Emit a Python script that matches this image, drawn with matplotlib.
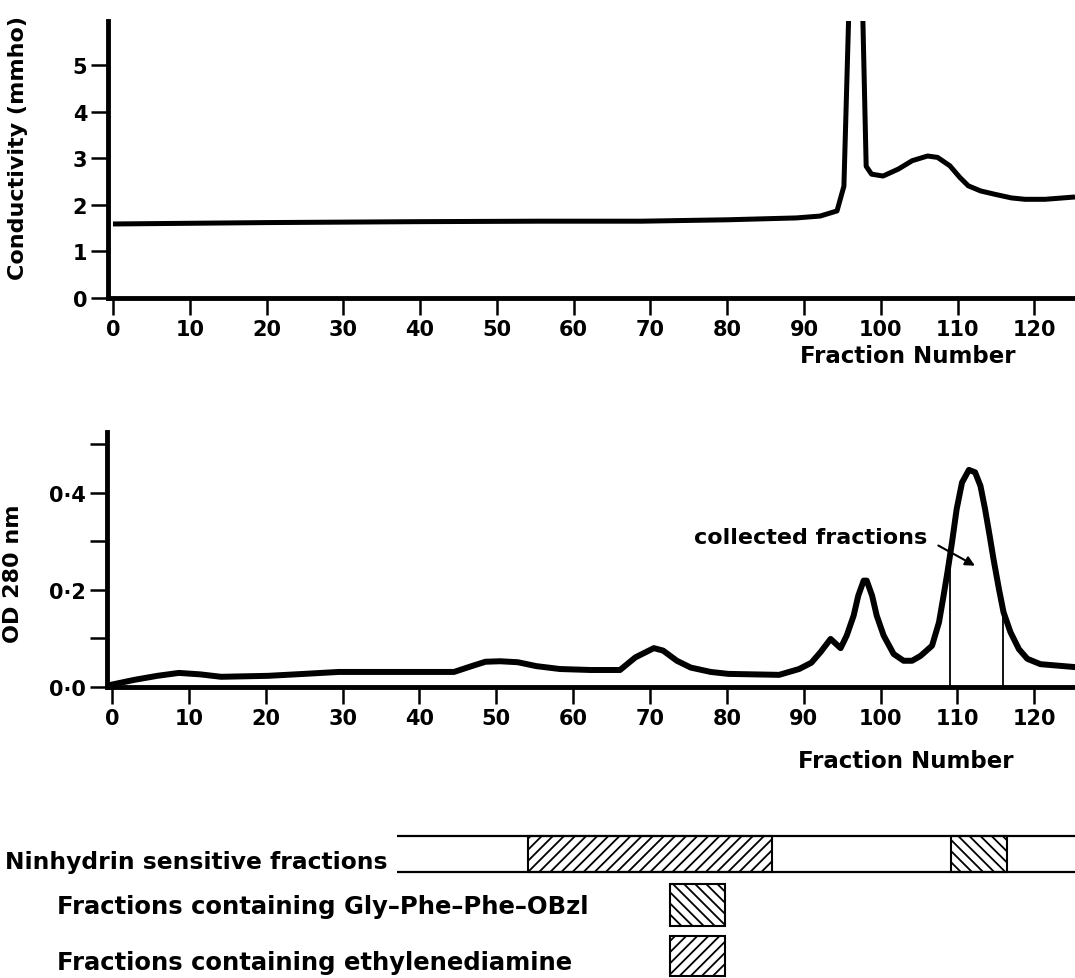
import numpy as np
import matplotlib
matplotlib.use("Agg")
import matplotlib.pyplot as plt

# conductivity trace (upper panel)
cond_frac = [0, 20, 40, 55.6, 68.9, 80, 89, 92.1, 94.3, 95.2, 95.9, 96.75, 97.6,
             98.1, 98.8, 100.3, 102.3, 104.1, 106.1, 107.4, 109, 110.3, 111.4,
             113, 114.8, 117, 118.8, 121.4, 125.3]
cond_val = [1.59, 1.62, 1.64, 1.65, 1.65, 1.68, 1.72, 1.76, 1.87, 2.4, 6.5, 7.0, 6.5,
            2.83, 2.66, 2.62, 2.77, 2.95, 3.05, 3.02, 2.84, 2.59, 2.41,
            2.30, 2.23, 2.15, 2.12, 2.12, 2.17]

# OD 280 nm trace (middle panel)
od_frac = [0, 3, 5.9, 8.7, 11.5, 14.2, 20.3, 25, 29.5, 36.6, 44.5, 46.8, 48.6,
           50.5, 52.8, 55.2, 58.3, 62.3, 66.1, 68.1, 70.5, 71.7, 73.5, 75.3, 77.9,
           80.2, 86.8, 89.4, 91, 92.2, 93.5, 94.8, 95.6, 96.5, 97.1, 97.8, 98.2,
           98.9, 99.5, 100.4, 101.7, 103.0, 104.1, 105.2, 106.7, 107.6, 108.2,
           108.7, 109.3, 109.9, 110.6, 111.5, 112.3, 113.0, 113.6, 114.2, 114.7,
           115.4, 116.0, 116.9, 118.0, 119.1, 120.8, 125.3]
od_val = [0.005, 0.015, 0.023, 0.029, 0.026, 0.021, 0.023, 0.027, 0.031, 0.031,
          0.031, 0.043, 0.052, 0.053, 0.051, 0.043, 0.037, 0.035, 0.035, 0.061,
          0.08, 0.075, 0.054, 0.04, 0.031, 0.027, 0.025, 0.037, 0.05, 0.072,
          0.099, 0.08, 0.106, 0.147, 0.188, 0.219, 0.219, 0.188, 0.147, 0.106,
          0.068, 0.054, 0.054, 0.064, 0.085, 0.133, 0.188, 0.236, 0.298, 0.366,
          0.421, 0.447, 0.442, 0.414, 0.366, 0.311, 0.263, 0.202, 0.154, 0.113,
          0.078, 0.058, 0.047, 0.041]
collected = [109.1, 115.9]

x_ticks = [0, 10, 20, 30, 40, 50, 60, 70, 80, 90, 100, 110, 120]
cond_ticks = [0, 1, 2, 3, 4, 5]
od_ticks = [0, 0.1, 0.2, 0.3, 0.4, 0.5]
od_labels = ["0·0", "", "0·2", "", "0·4", ""]

# fraction bands (bottom)
ninhydrin_start = 37.1
ninhydrin_boxes = [(54.1, 85.9, "///"), (109.2, 116.5, "\\\\\\")]
gly_box = (72.6, 79.8)
eda_box = (72.6, 79.8)

W, H = 1075, 979
plt.rcParams["font.family"] = "DejaVu Sans"
plt.rcParams["font.weight"] = "bold"
plt.rcParams["hatch.linewidth"] = 1.3

def box(l, t, r, b):
    return [l / W, 1 - b / H, (r - l) / W, (b - t) / H]

fig = plt.figure(figsize=(W / 100, H / 100), dpi=100)
ax1 = fig.add_axes(box(108, 22, 1075, 299))
ax2 = fig.add_axes(box(107, 433, 1075, 688))
ax3 = fig.add_axes(box(107, 815, 1075, 979))

xl = (-0.65, 125.3)
for ax in (ax1, ax2):
    ax.set_xlim(xl)
    for s in ("top", "right"):
        ax.spines[s].set_visible(False)
    for s in ("left", "bottom"):
        ax.spines[s].set_linewidth(3.5)
    ax.set_xticks(x_ticks)
    ax.tick_params(direction="out", length=12, width=1.8, labelsize=15, pad=3)

ax1.plot(cond_frac, cond_val, color="black", lw=3.6, solid_joinstyle="round",
         solid_capstyle="butt")
ax1.set_ylim(0, 5.95)
ax1.set_yticks(cond_ticks)
ax1.set_ylabel("Conductivity (mmho)", fontsize=16, fontweight="bold")
ax1.yaxis.set_label_coords(-0.0827, 0.545)
ax1.text(0.827, -0.209, "Fraction Number", transform=ax1.transAxes,
         ha="center", va="center", fontsize=16.5, fontweight="bold")

ax2.plot(od_frac, od_val, color="black", lw=4.3, solid_joinstyle="round")
ax2.set_ylim(0, 0.525)
ax2.set_yticks(od_ticks)
ax2.set_yticklabels(od_labels)
ax2.set_ylabel("OD 280 nm", fontsize=16, fontweight="bold")
ax2.yaxis.set_label_coords(-0.0868, 0.447)
ax2.text(0.825, -0.29, "Fraction Number", transform=ax2.transAxes,
         ha="center", va="center", fontsize=16.5, fontweight="bold")
tops = np.interp(collected, od_frac, od_val)
ax2.vlines(collected, 0, tops, color="black", lw=1.3)
ax2.text(90.9, 0.309, "collected fractions", ha="center", va="center",
         fontsize=16, fontweight="bold")
ax2.annotate("", xy=(112.6, 0.247), xytext=(107.2, 0.294),
             arrowprops=dict(arrowstyle="-|>", lw=1.5, color="black",
                             mutation_scale=14))

# bands
ax3.set_xlim(xl)
ax3.set_ylim(2.43, -0.784)
ax3.axis("off")
ax3.hlines([-0.35, 0.35], ninhydrin_start, 126, color="black", lw=1.6)
for a, b, h in ninhydrin_boxes:
    ax3.barh(0, b - a, left=a, height=0.7, facecolor="white", edgecolor="black",
             lw=1.5, hatch=h)
ax3.barh(1, gly_box[1] - gly_box[0], left=gly_box[0], height=0.82,
         facecolor="white", edgecolor="black", lw=1.5, hatch="\\\\\\")
ax3.barh(2, eda_box[1] - eda_box[0], left=eda_box[0], height=0.78,
         facecolor="white", edgecolor="black", lw=1.5, hatch="///")

fig.text(5 / W, 1 - 862 / H, "Ninhydrin sensitive fractions", va="center",
         fontsize=16.8, fontweight="bold")
fig.text(57 / W, 1 - 907 / H, "Fractions containing Gly–Phe–Phe–OBzl", va="center",
         fontsize=17.5, fontweight="bold")
fig.text(57 / W, 1 - 963 / H, "Fractions containing ethylenediamine", va="center",
         fontsize=17.5, fontweight="bold")

fig.savefig("out.png", dpi=100)
